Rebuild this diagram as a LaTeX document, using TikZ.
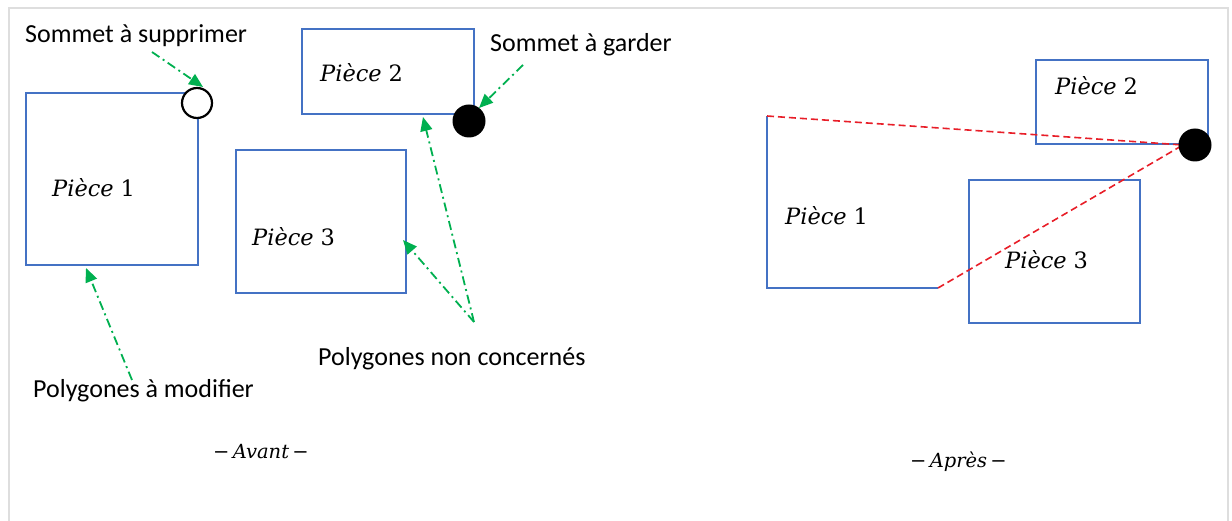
\documentclass[tikz,border=0pt]{standalone}
\usepackage{fontspec}
\newfontfamily\lblfont{Carlito}
\newfontfamily\pfont{DejaVu Serif}
\usetikzlibrary{arrows.meta}
\definecolor{pblue}{RGB}{68,114,196}
\definecolor{agreen}{RGB}{0,176,80}
\definecolor{dred}{RGB}{232,30,40}
\definecolor{framegray}{RGB}{222,222,222}
\begin{document}
\begin{tikzpicture}[x=1pt,y=-1pt,
  piecebox/.style={draw=pblue, line width=2.7pt, inner sep=0pt, outer sep=0pt},
  lbl/.style={font=\lblfont\fontsize{26}{30}\selectfont, inner sep=0pt, anchor=base west},
  ptxt/.style={font=\pfont\fontsize{22.5}{26}\selectfont, inner sep=0pt, anchor=base west},
  captxt/.style={font=\pfont\fontsize{19.5}{23}\selectfont, inner sep=0pt, anchor=base west},
  garrow/.style={draw=agreen, line width=1.8pt, dash pattern=on 9pt off 4pt on 2pt off 4pt, -{Triangle[length=14pt,width=12pt]}},
  reddash/.style={draw=dred, line width=1.6pt, dash pattern=on 7pt off 4pt},
  openvertex/.style={circle, draw=black, fill=white, line width=2.2pt, minimum size=30pt, inner sep=0pt},
  keepvertex/.style={circle, fill=black, minimum size=33pt, inner sep=0pt}
]
\useasboundingbox (0,0) rectangle (1232,521);
\fill[white] (0,0) rectangle (1232,521);
\draw[framegray, line width=1.5pt] (9,521) -- (9,8) -- (1228,8) -- (1228,521);

% ---------- Avant ----------
\node[piecebox, minimum width=172pt, minimum height=172pt] (p1a) at (112,179) {};
\node[piecebox, minimum width=172pt, minimum height=85pt] (p2a) at (388,71.5) {};
\node[piecebox, minimum width=170pt, minimum height=143pt] (p3a) at (321,221.5) {};
\node[openvertex] (va) at (197,103) {};
\node[keepvertex] (vk) at (469,121) {};

\node[ptxt] (t1a) at (52,197) {\textit{Pièce}\hspace{0.3em}1};
\node[ptxt] (t2a) at (320,82) {\textit{Pièce}\hspace{0.3em}2};
\node[ptxt] (t3a) at (252,246) {\textit{Pièce}\hspace{0.3em}3};

\node[lbl] (lsup) at (25,43) {Sommet à supprimer};
\node[lbl] (lgar) at (490,52) {Sommet à garder};
\node[lbl] (lnon) at (318,366) {Polygones non concernés};
\node[lbl] (lmod) at (33,397) {Polygones à modifier};

\coordinate (s1) at (152,52);
\coordinate (e1) at (203,87);
\coordinate (s2) at (523,65);
\coordinate (e2) at (479,108);
\coordinate (s3) at (132,380);
\coordinate (e3) at (86,268);
\coordinate (s4) at (474,322);
\coordinate (e4) at (423,117);
\coordinate (e5) at (403,240);

\draw[garrow] (s1) -- (e1);
\draw[garrow] (s2) -- (e2);
\draw[garrow] (s3) -- (e3);
\draw[garrow] (s4) -- (e4);
\draw[garrow] (s4) -- (e5);

\node[captxt] (cav) at (213,458) {−\,\textit{Avant}\,−};

% ---------- Après ----------
\coordinate (q1) at (767,116);
\coordinate (q2) at (767,288);
\coordinate (q3) at (938,288);
\draw[pblue, line width=1.2pt] (q1) -- (q2) -- (q3);
\node[piecebox, minimum width=172pt, minimum height=84pt] (p2b) at (1122,102) {};
\node[piecebox, minimum width=171pt, minimum height=143pt] (p3b) at (1054.5,251.5) {};
\coordinate (qk) at (1183,145);
\draw[reddash] (q1) -- (qk);
\draw[reddash] (q3) -- (qk);
\node[keepvertex] (vkb) at (1195,145) {};

\node[ptxt] (t1b) at (785,225) {\textit{Pièce}\hspace{0.3em}1};
\node[ptxt] (t2b) at (1055,95) {\textit{Pièce}\hspace{0.3em}2};
\node[ptxt] (t3b) at (1005,269) {\textit{Pièce}\hspace{0.3em}3};

\node[captxt] (cap) at (910,467) {−\,\textit{Après}\,−};
\end{tikzpicture}
\end{document}
